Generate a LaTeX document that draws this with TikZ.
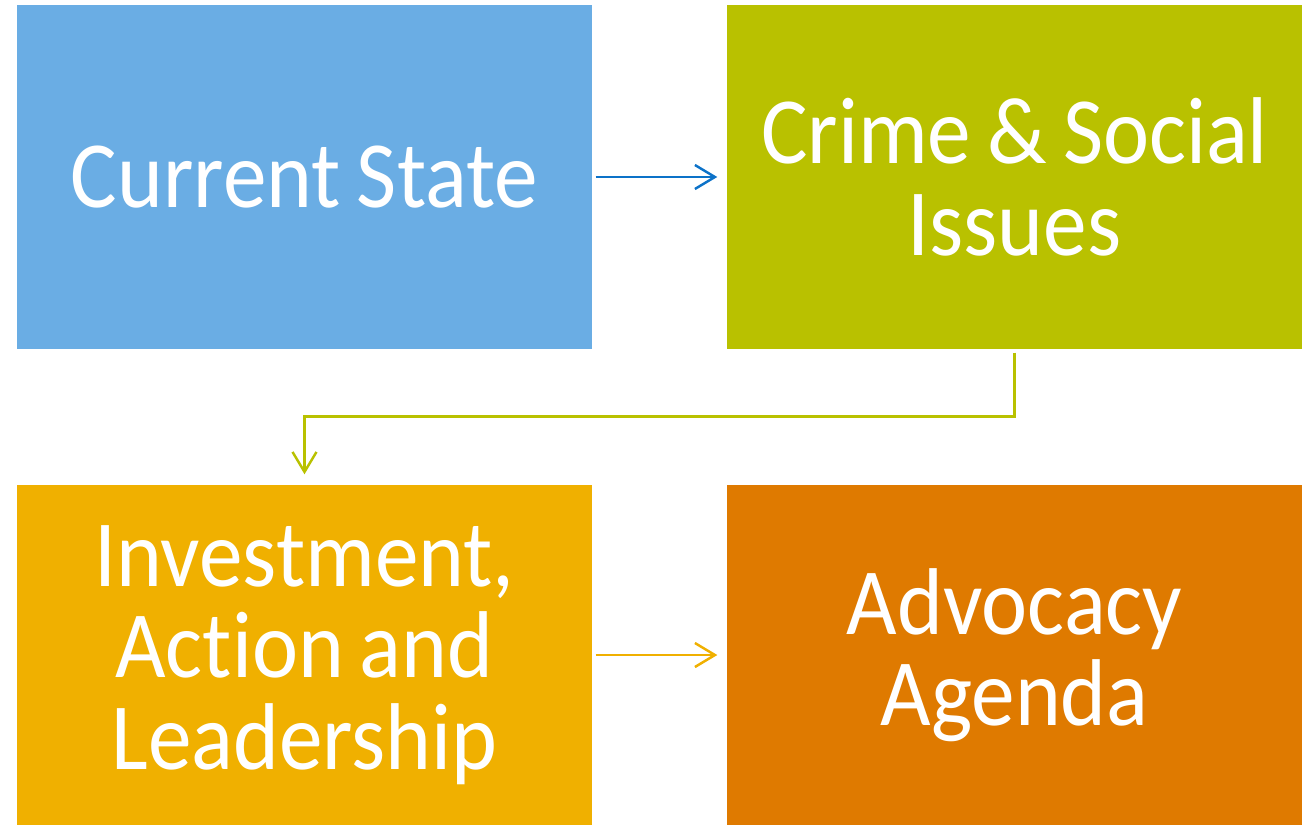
\documentclass[tikz,border=0pt]{standalone}
\usepackage{fontspec}
\setmainfont{Carlito}[FakeStretch=0.92, Ligatures=NoCommon]
\usetikzlibrary{arrows.meta}

\definecolor{stateblue}{RGB}{106,173,228}
\definecolor{linkblue}{RGB}{12,114,200}
\definecolor{crimegreen}{RGB}{185,193,0}
\definecolor{actionamber}{RGB}{240,176,0}
\definecolor{agendaorange}{RGB}{223,122,0}

\tikzset{
  stage/.style={rectangle, minimum width=5.75cm, text width=5.75cm, align=center,
    text=white, inner sep=0pt,
    font=\fontsize{27}{26}\selectfont,
    execute at begin node={\spaceskip=0.17em\relax}},
  link/.style={line width=0.7pt, -{Straight Barb[length=2mm,width=2.4mm]}}
}

\begin{document}
\begin{tikzpicture}
    \useasboundingbox (0,0) rectangle (13.09,8.25);

    % top row
    \node[stage, fill=stateblue, minimum height=3.44cm]    (cur)    at (3.045,6.48)  {Current State};
    \node[stage, fill=crimegreen, minimum height=3.44cm]   (crime)  at (10.145,6.48) {Crime \& Social\\Issues};

    % bottom row
    \node[stage, fill=actionamber, minimum height=3.40cm]  (invest) at (3.045,1.70)  {Investment,\\Action and\\Leadership};
    \node[stage, fill=agendaorange, minimum height=3.40cm] (advoc)  at (10.145,1.70) {Advocacy\\Agenda};

    % links
    \draw[link, linkblue, shorten <=0.03cm, shorten >=0.09cm] (cur.east) -- (crime.west);
    \draw[link, crimegreen, shorten <=0.03cm, shorten >=0.1cm]
        (crime.south) -- ++(0,-0.67) -| (invest.north);
    \draw[link, actionamber, shorten <=0.03cm, shorten >=0.09cm] (invest.east) -- (advoc.west);

\end{tikzpicture}
\end{document}
